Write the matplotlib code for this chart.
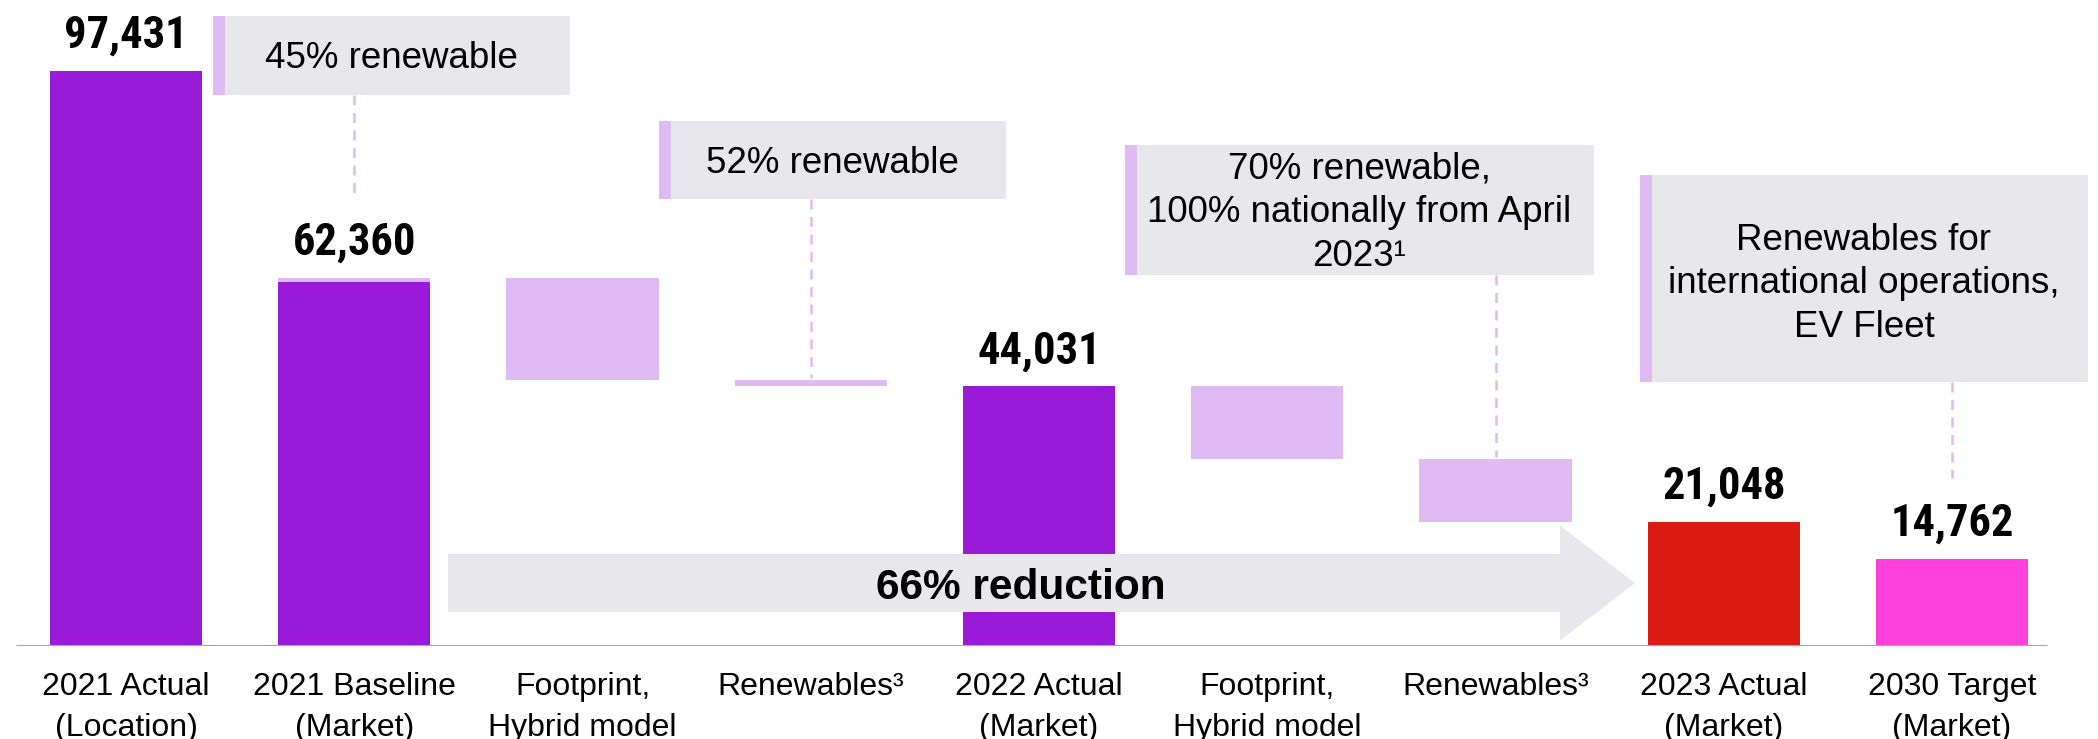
import os
import matplotlib
matplotlib.use('Agg')
from matplotlib import pyplot as plt
from matplotlib import font_manager
from matplotlib.patches import Rectangle, FancyArrow

plt.rcParams['font.family'] = ['Liberation Sans', 'DejaVu Sans']

# data
categories = ['2021 Actual\n(Location)', '2021 Baseline\n(Market)', 'Footprint,\nHybrid model',
              'Renewables³', '2022 Actual\n(Market)', 'Footprint,\nHybrid model',
              'Renewables³', '2023 Actual\n(Market)', '2030 Target\n(Market)']
bar_top = [97431, 62360, 62360, 45100, 44031, 44031, 31700, 21048, 14762]
bar_bottom = [0, 0, 45100, 44031, 0, 31700, 21048, 0, 0]
is_total = [True, True, False, False, True, False, False, True, True]
baseline_cap = 650  # light strip on top of 2021 baseline bar

notes = ['45% renewable', '52% renewable',
         '70% renewable,\n100% nationally from April\n2023¹',
         'Renewables for\ninternational operations,\nEV Fleet']
note_bar = [1, 3, 6, 8]
reduction_text = '66% reduction'

# colours
purple = '#991BD7'
light = '#E0BAF3'
red = '#DB1A14'
pink = '#FF40DC'
box_gray = '#E8E7EC'
colors = [purple, purple, light, light, purple, light, light, red, pink]

# narrow bold font for the value labels, if one is installed
narrow = None
for key in ['liberationsansnarrow-bold.', 'arialnarrowbold', 'arial narrow bold', 'arialnb',
            'notosans-condensedbold', 'robotocondensed-bold', 'opensans-condensedbold']:
    for f in font_manager.fontManager.ttflist:
        if key in os.path.basename(f.fname).lower():
            narrow = f.fname
            break
    if narrow:
        break
if narrow is None:
    for f in font_manager.fontManager.ttflist:
        if f.stretch in ('condensed', 'semi-condensed') and f.weight in (700, 'bold') \
                and 'DejaVu' not in f.name:
            narrow = f.fname
            break
if narrow:
    value_font = dict(fontproperties=font_manager.FontProperties(fname=narrow, size=32))
else:
    value_font = dict(fontsize=28, fontweight='bold')

# layout (pixels)
W, H = 2098, 739
base_px = 646
first_px = 126
px_per_bar = 228.25
px_per_unit = 0.005902

fig = plt.figure(figsize=(W / 100, H / 100), dpi=100)
ax = fig.add_axes([0, (H - base_px) / H, 1, base_px / H])
ax.set_xlim(-first_px / px_per_bar, (W - first_px) / px_per_bar)
ax.set_ylim(0, base_px / px_per_unit)


def dx(px):
    return (px - first_px) / px_per_bar


def dy(py):
    return (base_px - py) / px_per_unit


bw = 0.668
n = len(categories)
heights = [t - b for t, b in zip(bar_top, bar_bottom)]
ax.bar(range(n), heights, bottom=bar_bottom, width=bw, color=colors, zorder=2)
ax.bar(1, baseline_cap, bottom=bar_top[1] - baseline_cap, width=bw, color=light, zorder=2.5)

# value labels
for i in range(n):
    if is_total[i]:
        ax.annotate('{:,}'.format(bar_top[i]), xy=(i, bar_top[i]), xytext=(0, 16.5),
                    textcoords='offset points', ha='center', va='baseline',
                    zorder=6, **value_font)

# axis line
ax.plot([dx(16), dx(2047)], [0, 0], color='#A6A6A6', lw=2.2, zorder=4, solid_capstyle='butt')

# big arrow
y_mid = dy(583)
arrow = FancyArrow(dx(448), y_mid, dx(1635) - dx(448), 0,
                   width=58 / px_per_unit, head_width=115 / px_per_unit,
                   head_length=(1635 - 1560) / px_per_bar, length_includes_head=True,
                   color='#E8E8EC', lw=0, zorder=3)
ax.add_patch(arrow)
ax.text(dx(1021), dy(599), reduction_text, ha='center', va='baseline',
        fontsize=30.5, fontweight='bold', zorder=6)

# callout boxes
box_px = [(213, 16, 570, 95), (659, 121, 1006, 199), (1125, 145, 1594, 275), (1640, 175, 2088, 382)]
text_base_px = [68, 173, 266, 337]
for k, note in enumerate(notes):
    x0, y0, x1, y1 = box_px[k]
    ax.add_patch(Rectangle((dx(x0), dy(y1)), dx(x1) - dx(x0), dy(y0) - dy(y1),
                           facecolor=box_gray, edgecolor='none', zorder=3))
    ax.add_patch(Rectangle((dx(x0), dy(y1)), dx(x0 + 12) - dx(x0), dy(y0) - dy(y1),
                           facecolor=light, edgecolor='none', zorder=3.5))
    ax.text(dx((x0 + x1) / 2), dy(text_base_px[k]), note, ha='center', va='baseline',
            multialignment='center', fontsize=26.5, linespacing=1.32, zorder=6)
    b = note_bar[k]
    gap = 81 if is_total[b] else 2
    y_end = bar_top[b] + gap / px_per_unit
    ax.plot([b, b], [dy(y1), y_end], color=light, lw=1.8, ls=(0, (4, 3)), zorder=2)

ax.set_xticks(range(n))
ax.set_xticklabels(categories, fontsize=23)
for lbl in ax.get_xticklabels():
    lbl.set_linespacing(1.48)
ax.tick_params(axis='x', length=0, pad=18.7)
ax.set_yticks([])
for s in ax.spines.values():
    s.set_visible(False)

fig.savefig('out.png', dpi=100)
